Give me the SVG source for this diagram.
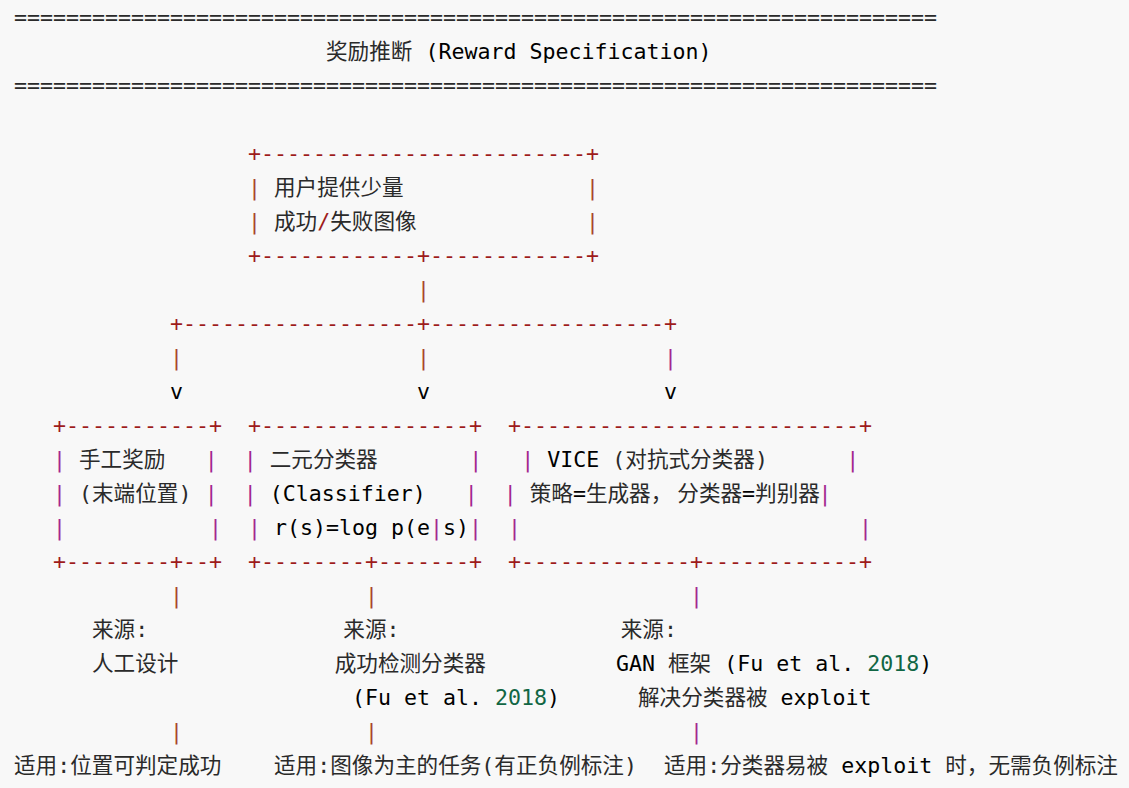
<svg xmlns="http://www.w3.org/2000/svg" width="1129" height="788" viewBox="0 0 1129 788" xml:space="preserve">
<style>
text{font-family:"DejaVu Sans Mono","Noto Sans CJK SC",monospace;font-size:21.6px;fill:#2a2a2a}
.r{fill:#9e1b1b}
.b{fill:#a8452a}
.m{fill:#a3268f}
.g{fill:#116644}
.k{fill:#000}
</style>
<rect width="1129" height="788" fill="#f8f8f8"/>
<g id="title">
<text x="14" y="24.5">=======================================================================</text>
<text x="326" y="58.5">奖励推断 <tspan class="k">(Reward Specification)</tspan></text>
<text x="14" y="92.5">=======================================================================</text>
</g>
<g id="node-input">
<text class="r" x="248" y="160.5">+-------------------------+</text>
<text class="b" x="248" y="194.5">|</text><text x="274" y="194.5">用户提供少量</text><text class="b" x="586" y="194.5">|</text>
<text class="b" x="248" y="228.5">|</text><text x="274" y="228.5">成功<tspan class="r">/</tspan>失败图像</text><text class="b" x="586" y="228.5">|</text>
<text class="r" x="248" y="262.5">+------------+------------+</text>
</g>
<g id="connectors">
<text class="b" x="417" y="296.5">|</text>
<text class="r" x="170" y="330.5">+------------------+------------------+</text>
<text class="b" x="170" y="364.5">|</text><text class="b" x="417" y="364.5">|</text><text class="m" x="664" y="364.5">|</text>
<text class="k" x="170" y="398.5">v</text><text class="k" x="417" y="398.5">v</text><text class="k" x="664" y="398.5">v</text>
<text class="b" x="170" y="602.5">|</text><text class="b" x="365" y="602.5">|</text><text class="m" x="690" y="602.5">|</text>
<text class="b" x="170" y="738.5">|</text><text class="b" x="365" y="738.5">|</text><text class="m" x="690" y="738.5">|</text>
</g>
<g id="node-manual">
<text class="r" x="53" y="432.5">+-----------+</text>
<text class="m" x="53" y="466.5">|</text><text x="79" y="466.5">手工奖励</text><text class="m" x="204.7" y="466.5">|</text>
<text class="m" x="53" y="500.5">|</text><text x="79" y="500.5">(末端位置)</text><text class="m" x="204.7" y="500.5">|</text>
<text class="m" x="53" y="534.5">|</text><text class="m" x="209" y="534.5">|</text>
<text class="r" x="53" y="568.5">+--------+--+</text>
</g>
<g id="node-classifier">
<text class="r" x="248" y="432.5">+----------------+</text>
<text class="m" x="243.7" y="466.5">|</text><text x="269.7" y="466.5">二元分类器</text><text class="m" x="469.3" y="466.5">|</text>
<text class="m" x="243.7" y="500.5">|</text><text class="k" x="269.7" y="500.5">(Classifier)</text><text class="m" x="464.7" y="500.5">|</text>
<text class="m" x="248" y="534.5">|</text><text class="k" x="274" y="534.5">r(s)=log p(e<tspan class="m">|</tspan>s)</text><text class="m" x="469" y="534.5">|</text>
<text class="r" x="248" y="568.5">+--------+-------+</text>
</g>
<g id="node-vice">
<text class="r" x="508" y="432.5">+--------------------------+</text>
<text class="m" x="521.3" y="466.5">|</text><text x="547.3" y="466.5"><tspan class="k">VICE</tspan> (对抗式分类器)</text><text class="m" x="846.3" y="466.5">|</text>
<text class="m" x="503.7" y="500.5">|</text><text x="529.7" y="500.5">策略<tspan class="k">=</tspan>生成器，<tspan dx="5">分类器</tspan><tspan class="k">=</tspan>判别器</text><text class="m" x="818.5" y="500.5">|</text>
<text class="m" x="508" y="534.5">|</text><text class="m" x="859" y="534.5">|</text>
<text class="r" x="508" y="568.5">+-------------+------------+</text>
</g>
<g id="src-manual">
<text x="92" y="636.5">来源:</text>
<text x="92" y="670.5">人工设计</text>
</g>
<g id="src-classifier">
<text x="343.3" y="636.5">来源:</text>
<text x="334.7" y="670.5">成功检测分类器</text>
<text class="k" x="352" y="704.5">(Fu et al. <tspan class="g">2018</tspan>)</text>
</g>
<g id="src-vice">
<text x="620.7" y="636.5">来源:</text>
<text x="616" y="670.5"><tspan class="k">GAN</tspan> 框架 <tspan class="k">(Fu et al. </tspan><tspan class="g">2018</tspan><tspan class="k">)</tspan></text>
<text x="638" y="704.5">解决分类器被 <tspan class="k">exploit</tspan></text>
</g>
<g id="use-manual">
<text x="14" y="772.5">适用:位置可判定成功</text>
</g>
<g id="use-classifier">
<text x="274" y="772.5">适用:图像为主的任务(有正负例标注)</text>
</g>
<g id="use-vice">
<text x="664" y="772.5">适用:分类器易被 <tspan class="k">exploit</tspan> 时，无需负例标注</text>
</g>
</svg>
